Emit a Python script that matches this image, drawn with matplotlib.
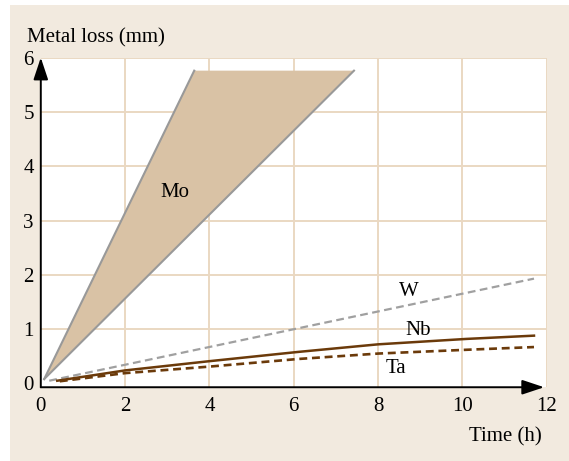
import matplotlib
matplotlib.use("Agg")
import matplotlib.pyplot as plt
from matplotlib.patches import Rectangle, Polygon

plt.rcParams["font.family"] = ["Liberation Serif", "DejaVu Serif"]
plt.rcParams["font.size"] = 15

# Mo band: lower and upper bounding lines (time h, loss mm)
mo_fast_t = [0.08, 3.64]
mo_fast_y = [0.08, 5.76]
mo_slow_t = [0.08, 7.43]
mo_slow_y = [0.08, 5.76]

w_t = [0.2, 11.7]
w_y = [0.05, 1.93]

nb_t = [0.39, 2.0, 4.0, 6.1, 8.0, 10.1, 11.7]
nb_y = [0.05, 0.24, 0.41, 0.58, 0.72, 0.82, 0.88]

ta_t = [0.45, 2.0, 4.0, 6.1, 8.0, 10.1, 11.7]
ta_y = [0.04, 0.19, 0.31, 0.45, 0.55, 0.62, 0.67]

x_ticks = [0, 2, 4, 6, 8, 10, 12]
y_ticks = [0, 1, 2, 3, 4, 5, 6]

BG = "#f2eadf"
GRID = "#ead8c2"
BROWN = "#6b3a0a"
GRAY = "#a0a0a0"
MO_FILL = "#d9c2a5"

fig = plt.figure(figsize=(5.69, 4.61), dpi=100, facecolor="white")
fig.patches.append(Rectangle((10 / 569, 0), 1 - 10 / 569, 1 - 5 / 461,
                             transform=fig.transFigure, facecolor=BG,
                             edgecolor="none", zorder=-10))

ax = fig.add_axes([0.0717, 0.16, 0.889, 0.715])
ax.set_facecolor("white")
ax.set_xlim(0, 12)
ax.set_ylim(-0.07, 6)

# grid
for xv in x_ticks[1:]:
    ax.axvline(xv, color=GRID, lw=1.4, zorder=0)
for yv in y_ticks[1:]:
    ax.axhline(yv, color=GRID, lw=1.4, zorder=0)

for s in ax.spines.values():
    s.set_visible(False)

# Mo band
band = Polygon([(mo_fast_t[0], mo_fast_y[0]), (mo_fast_t[1], mo_fast_y[1]),
                (mo_slow_t[1], mo_slow_y[1])], closed=True,
               facecolor=MO_FILL, edgecolor="none", zorder=2)
ax.add_patch(band)
ax.plot(mo_fast_t, mo_fast_y, color="#999999", lw=1.5, zorder=3)
ax.plot(mo_slow_t, mo_slow_y, color="#999999", lw=1.5, zorder=3)

ax.plot(w_t, w_y, color=GRAY, lw=1.6, ls=(0, (3.5, 2)), zorder=3)
ax.plot(nb_t, nb_y, color=BROWN, lw=1.8, zorder=3)
ax.plot(ta_t, ta_y, color=BROWN, lw=1.9, ls=(0, (3, 1.8)), zorder=3)

ax.text(3.18, 3.51, "Mo", ha="center", va="center", fontsize=15)
ax.text(8.72, 1.70, "W", ha="center", va="center", fontsize=15)
ax.text(8.94, 0.97, "Nb", ha="center", va="center", fontsize=15)
ax.text(8.42, 0.27, "Ta", ha="center", va="center", fontsize=15)

# axis arrows
ax.annotate("", xy=(0, 1.0), xytext=(0, 0), xycoords="axes fraction",
            arrowprops=dict(arrowstyle="-|>,head_length=0.9,head_width=0.3",
                            color="black", lw=1.4, shrinkA=0, shrinkB=0))
ax.annotate("", xy=(0.995, 0), xytext=(0, 0), xycoords="axes fraction",
            arrowprops=dict(arrowstyle="-|>,head_length=0.9,head_width=0.3",
                            color="black", lw=1.4, shrinkA=0, shrinkB=0))

ax.set_xticks(x_ticks)
ax.set_yticks(y_ticks)
ax.set_xticklabels([str(v) for v in x_ticks])
ax.set_yticklabels([str(v) for v in y_ticks])
ax.tick_params(length=0, labelsize=15, pad=7)
ax.tick_params(axis="y", pad=5)

fig.text(27 / 569, 1 - 38 / 461, "Metal loss (mm)", ha="left", va="center", fontsize=15)
fig.text(542 / 569, 1 - 437 / 461, "Time (h)", ha="right", va="center", fontsize=15)

fig.savefig("out.png", dpi=100, facecolor="white")
